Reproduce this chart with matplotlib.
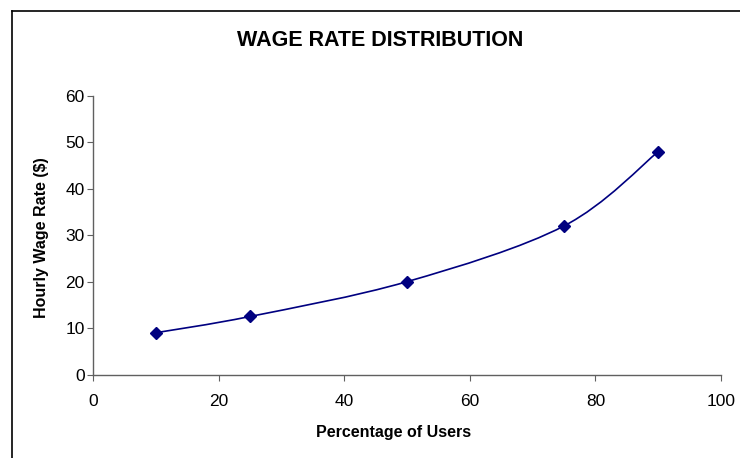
import matplotlib
matplotlib.use("Agg")
import matplotlib.pyplot as plt
from matplotlib.path import Path
from matplotlib.patches import PathPatch
from matplotlib.lines import Line2D

plt.rcParams['font.family'] = ['Liberation Sans', 'DejaVu Sans']

# data
users_pct = [10, 25, 50, 75, 90]
wage_rate = [9, 12.5, 20, 32, 48]

title = "WAGE RATE DISTRIBUTION"
x_label = "Percentage of Users"
y_label = "Hourly Wage Rate ($)"
x_ticks = [0, 20, 40, 60, 80, 100]
y_ticks = [0, 10, 20, 30, 40, 50, 60]

line_color = "#000080"

fig = plt.figure(figsize=(7.4, 4.58), dpi=100)
ax = fig.add_axes([0.1257, 0.1823, 0.8486, 0.6081])

# smoothed line like excel (bezier through the points)
pts = list(zip(users_pct, wage_rate))
verts = [pts[0]]
codes = [Path.MOVETO]
n = len(pts)
for i in range(n - 1):
    p0 = pts[i - 1] if i > 0 else pts[i]
    p1 = pts[i]
    p2 = pts[i + 1]
    p3 = pts[i + 2] if i + 2 < n else pts[i + 1]
    c1 = (p1[0] + (p2[0] - p0[0]) / 6, p1[1] + (p2[1] - p0[1]) / 6)
    c2 = (p2[0] - (p3[0] - p1[0]) / 6, p2[1] - (p3[1] - p1[1]) / 6)
    verts += [c1, c2, p2]
    codes += [Path.CURVE4] * 3
ax.add_patch(PathPatch(Path(verts, codes), facecolor="none",
                       edgecolor=line_color, lw=1.2))
ax.plot(users_pct, wage_rate, ls="none", marker="D", ms=6,
        color=line_color)

ax.set_xlim(0, 100)
ax.set_ylim(0, 60)
ax.set_xticks(x_ticks)
ax.set_yticks(y_ticks)
ax.tick_params(labelsize=12.5, length=4, width=0.8, direction="out",
               colors="#606060", labelcolor="black")
ax.tick_params(axis="x", pad=10)
ax.tick_params(axis="y", pad=2)
ax.spines["top"].set_visible(False)
ax.spines["right"].set_visible(False)
for s in ("left", "bottom"):
    ax.spines[s].set_color("#606060")
    ax.spines[s].set_linewidth(1.0)

fig.text(380 / 740, 1 - 40 / 458, title, ha="center", va="center",
         fontsize=15.5, fontweight="bold")
fig.text(394 / 740, 1 - 432 / 458, x_label, ha="center", va="center",
         fontsize=11.5, fontweight="bold")
fig.text(42 / 740, 1 - 238 / 458, y_label, ha="center", va="center",
         fontsize=11.5, fontweight="bold", rotation=90)

# chart area border (only left and top are inside the picture)
fig.add_artist(Line2D([12 / 740, 12 / 740], [0, 1 - 11 / 458],
                      transform=fig.transFigure, color="black", lw=1.2))
fig.add_artist(Line2D([12 / 740, 1], [1 - 11 / 458, 1 - 11 / 458],
                      transform=fig.transFigure, color="black", lw=1.2))

fig.savefig("out.png", dpi=100)
